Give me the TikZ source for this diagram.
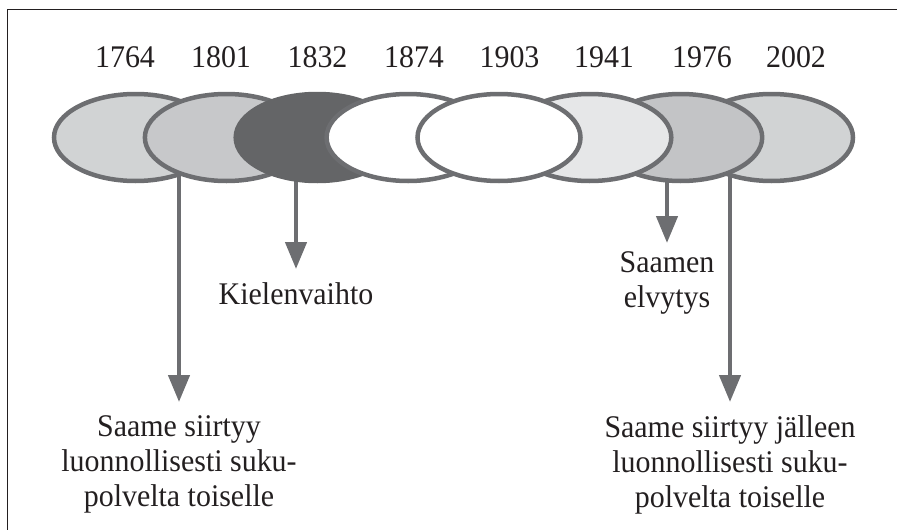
\documentclass[tikz,border=0pt]{standalone}
\usepackage{fontspec}
\setmainfont{Liberation Serif}[FakeStretch=0.95]
\usetikzlibrary{shapes.geometric,arrows.meta}
\definecolor{rim}{HTML}{6D6E71}
\definecolor{ink}{HTML}{231F20}
\definecolor{paleA}{HTML}{D1D3D4}
\definecolor{paleB}{HTML}{C7C8CA}
\definecolor{darkC}{HTML}{646567}
\definecolor{paleF}{HTML}{E6E7E8}
\definecolor{paleG}{HTML}{C3C4C6}
\begin{document}
\begin{tikzpicture}[x=1pt,y=-1pt,
  era/.style={ellipse, draw=rim, line width=4.5pt, minimum width=163pt,
              minimum height=87pt, inner sep=0pt},
  yr/.style={anchor=base, inner sep=0pt, text=ink,
             font=\fontsize{31.5}{35}\selectfont},
  note/.style={anchor=north, align=center, inner sep=0pt, text=ink,
               font=\fontsize{31.5}{35}\selectfont},
  link/.style={draw=rim, line width=4.5pt,
               -{Triangle[width=21pt,length=27pt]}}]
\useasboundingbox (0,0) rectangle (897,530);

% frame (only its top and left sides fall inside the page)
\draw[ink, line width=1pt] (7,540) -- (7,9.5) -- (910,9.5);

% captions under the timeline
\node[note] (natural)  at (179,415.5) {Saame siirtyy\\luonnollisesti suku-\\polvelta toiselle};
\node[note] (shift)    at (296,282.5) {Kielenvaihto};
\node[note] (revival)  at (667,251.7) {Saamen\\elvytys};
\node[note] (again)    at (730,415.5) {Saame siirtyy jälleen\\luonnollisesti suku-\\polvelta toiselle};

% arrow roots, hidden behind the ellipses
\coordinate (r1) at (179,160);
\coordinate (r2) at (296,160);
\coordinate (r3) at (667,160);
\coordinate (r4) at (730,160);

\draw[link, shorten >=13.5pt] (r1) -- (natural.north);
\draw[link, shorten >=13.5pt] (r2) -- (shift.north);
\draw[link, shorten >=8.7pt] (r3) -- (revival.north);
\draw[link, shorten >=13.5pt] (r4) -- (again.north);

% the eras, stacked so the middle ones sit on top
\node[era, fill=paleA] (e1) at (135.5,137.5) {};
\node[era, fill=paleB] (e2) at (226.4,137.5) {};
\node[era, fill=darkC, draw=darkC] (e3) at (317.2,137.5) {};
\node[era, fill=white] (e4) at (408.1,137.5) {};
\node[era, fill=paleA] (e8) at (771.5,137.5) {};
\node[era, fill=paleG] (e7) at (680.7,137.5) {};
\node[era, fill=paleF] (e6) at (589.8,137.5) {};
\node[era, fill=white] (e5) at (499.0,137.5) {};

% years
\node[yr] (y1) at (125,67) {1764};
\node[yr] (y2) at (221,67) {1801};
\node[yr] (y3) at (317.5,67) {1832};
\node[yr] (y4) at (414,67) {1874};
\node[yr] (y5) at (509.5,67) {1903};
\node[yr] (y6) at (604,67) {1941};
\node[yr] (y7) at (702,67) {1976};
\node[yr] (y8) at (796,67) {2002};
\end{tikzpicture}
\end{document}
